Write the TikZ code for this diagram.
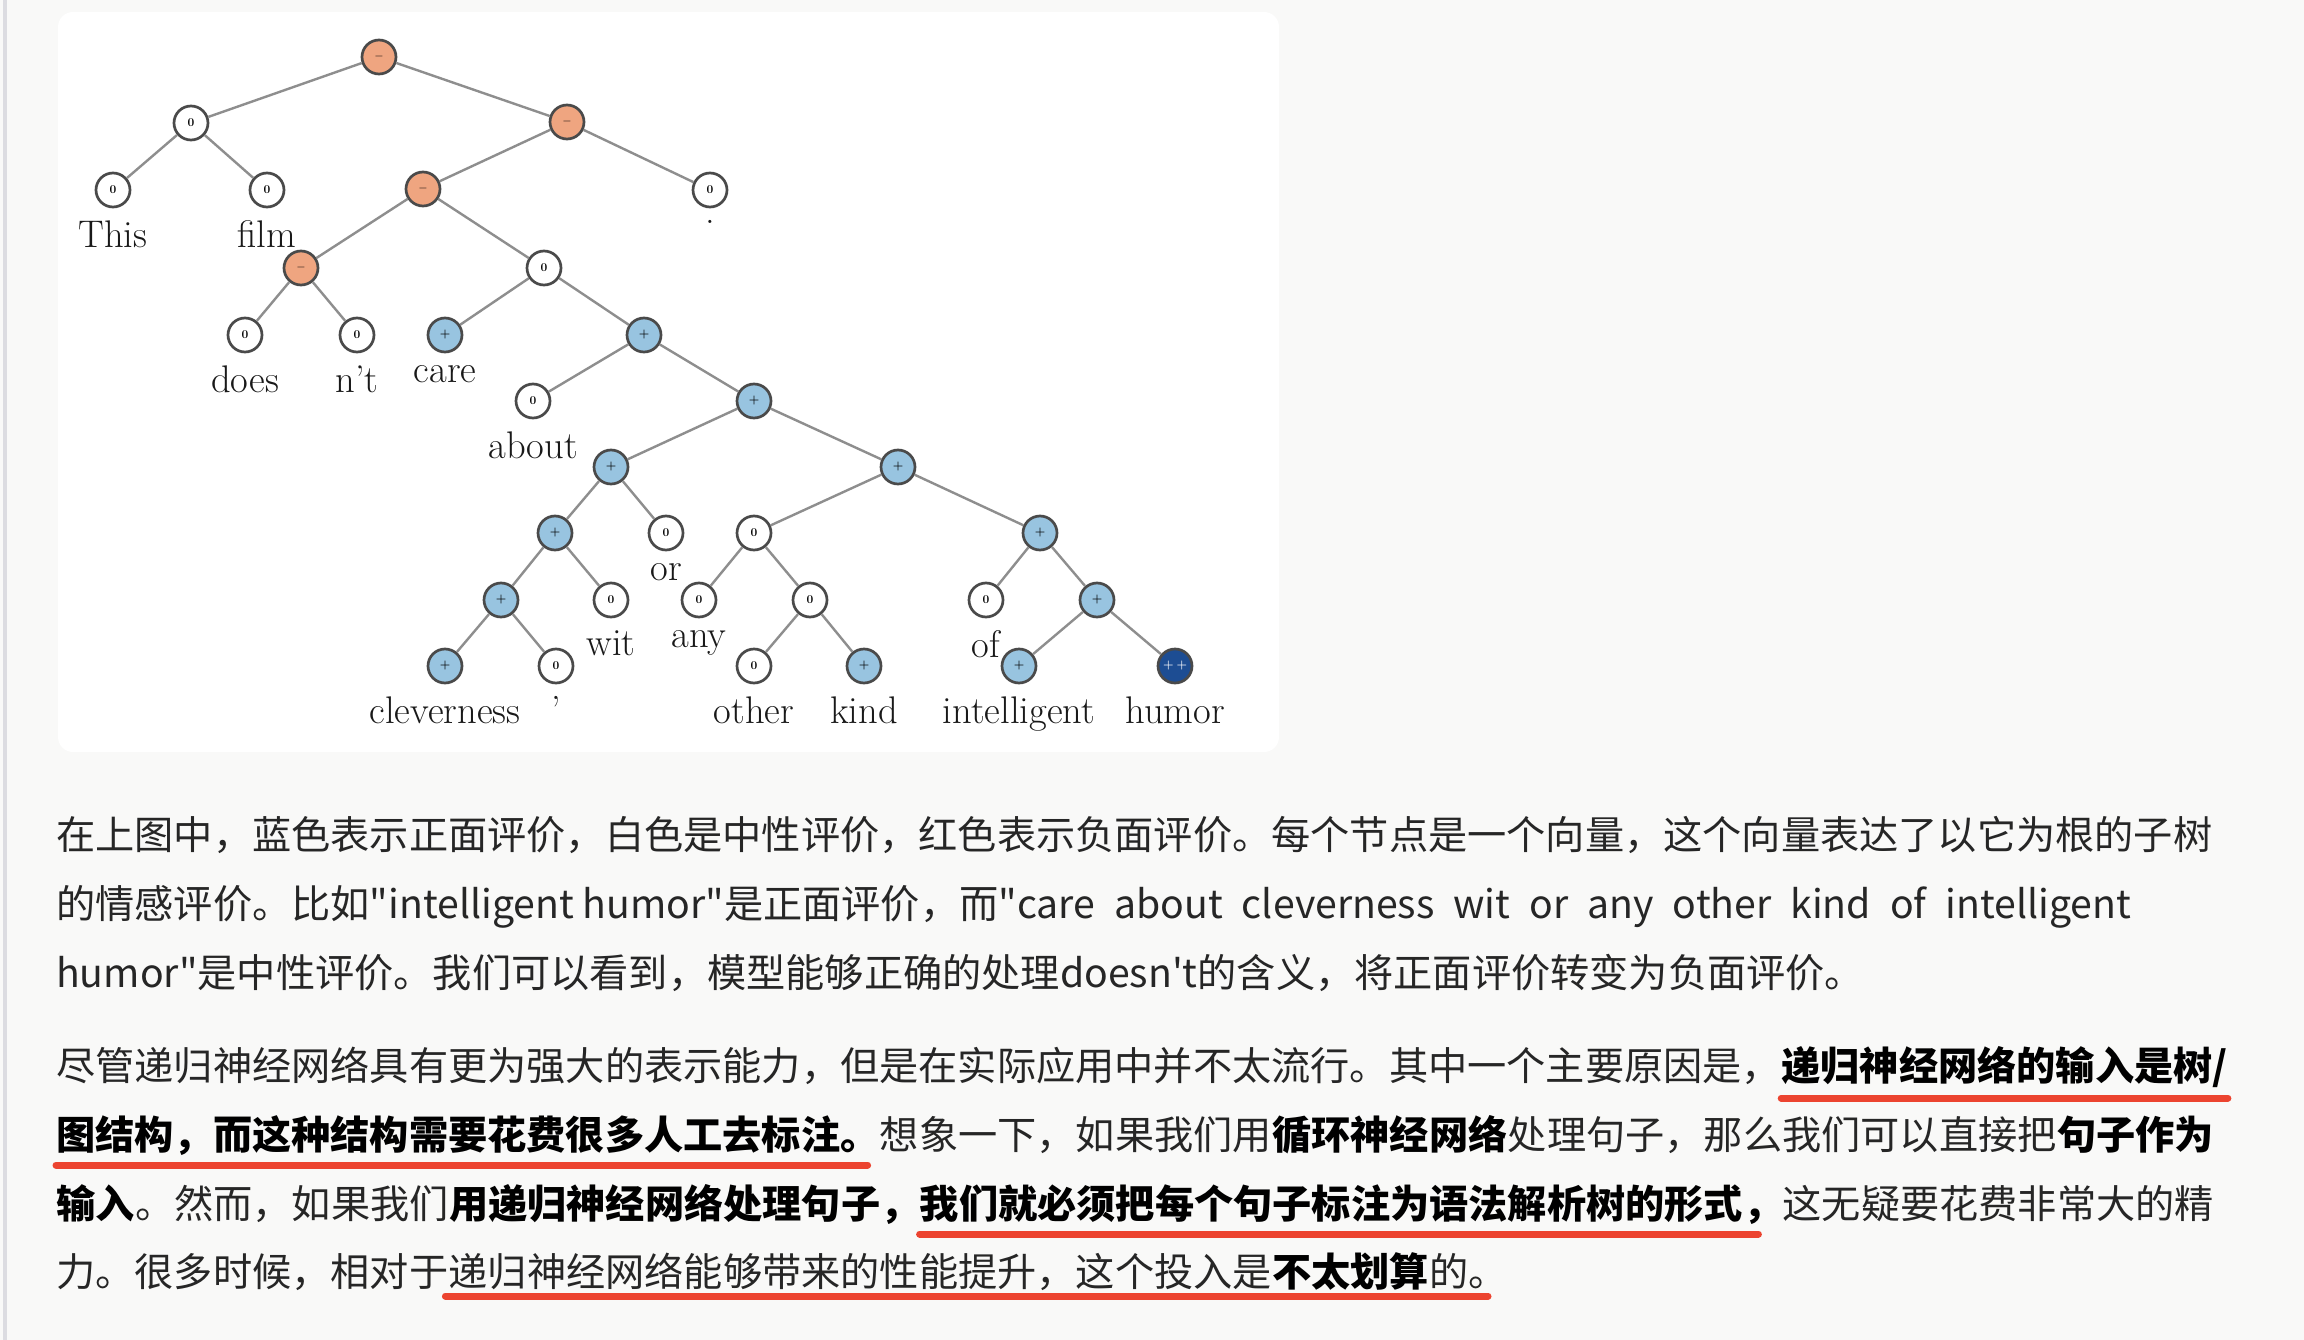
\documentclass[tikz,border=0pt]{standalone}
\usepackage{fontspec}
\newfontfamily\cjk[Ligatures=TeXOff]{Noto Sans CJK SC}
\usetikzlibrary{positioning}
\definecolor{PageBg}{HTML}{F9F9F8}
\definecolor{Rule}{HTML}{DCDCE1}
\definecolor{Ink}{HTML}{262626}
\definecolor{Edge}{HTML}{8E8E8E}
\definecolor{Ring}{HTML}{4A4A4A}
\definecolor{Neg}{HTML}{EFA580}
\definecolor{Pos}{HTML}{98C4E0}
\definecolor{PosStrong}{HTML}{1D4D93}
\definecolor{Mark}{HTML}{EC4430}

\begin{document}
\begin{tikzpicture}[
  x=1pt,y=-1pt,
  label distance=12pt,
  sent/.style={circle,draw=Ring,line width=2.7pt,minimum size=34pt,inner sep=0pt,fill=white,
    font=\fontsize{12}{12}\selectfont\bfseries},
  neutral/.style={sent},
  negative/.style={sent,fill=Neg},
  positive/.style={sent,fill=Pos},
  vpositive/.style={sent,fill=PosStrong,text=white},
  word/.style={inner sep=0pt,text=black!90,font=\fontsize{38.5}{38.5}\selectfont},
  link/.style={draw=Edge,line width=2.4pt},
  para/.style={anchor=base west,inner sep=0pt,text=Ink,font=\cjk\fontsize{39.2}{39.2}\selectfont},
  strong/.style={para,text=black,font=\cjk\bfseries\fontsize{39.2}{39.2}\selectfont},
  uline/.style={draw=Mark,line width=7pt,line cap=round}
]
\useasboundingbox (0,0) rectangle (2304,1340);
\fill[PageBg] (0,0) rectangle (2304,1340);
\fill[Rule] (3,0) rectangle (7,1340);
\fill[white,rounded corners=15pt] (58,12) rectangle (1279,752);

% sentiment tree
\node[negative] (root) at (379,57) {$-$};
\node[neutral] (thisfilm) at (191,123) {0};
\node[negative] (rest) at (567,122) {$-$};
\node[neutral,label={[word]below:This}] (wThis) at (113,190) {0};
\node[neutral,label={[word]below:film}] (wfilm) at (267,190) {0};
\node[negative] (doesntcare) at (423,189) {$-$};
\node[neutral,label={[word]below:{.}}] (wdot) at (710,190) {0};
\node[negative] (doesnt) at (301,268) {$-$};
\node[neutral] (careabout) at (544,268) {0};
\node[neutral,label={[word]below:does}] (wdoes) at (245,335) {0};
\node[neutral,label={[word]below:n't}] (wnt) at (357,335) {0};
\node[positive,label={[word]below:care}] (wcare) at (445,335) {+};
\node[positive] (aboutall) at (644,335) {+};
\node[neutral,label={[word]below:about}] (wabout) at (533,401) {0};
\node[positive] (cleverall) at (754,401) {+};
\node[positive] (cleverwitor) at (611,467) {+};
\node[positive] (anyall) at (898,467) {+};
\node[positive] (cleverwit) at (555,533) {+};
\node[neutral,label={[word]below:or}] (wor) at (666,533) {0};
\node[neutral] (anykind) at (754,533) {0};
\node[positive] (ofhumor) at (1040,533) {+};
\node[positive] (clevercomma) at (501,600) {+};
\node[neutral,label={[word]below:wit}] (wwit) at (611,600) {0};
\node[neutral,label={[word]below:any}] (wany) at (699,600) {0};
\node[neutral] (otherkind) at (810,600) {0};
\node[neutral,label={[word]below:of}] (wof) at (986,600) {0};
\node[positive] (inthumor) at (1097,600) {+};
\node[positive,label={[word]below:cleverness}] (wclever) at (445,666) {+};
\node[neutral,label={[word]below:{,}}] (wcomma) at (556,666) {0};
\node[neutral,label={[word]below:other}] (wother) at (754,666) {0};
\node[positive,label={[word]below:kind}] (wkind) at (864,666) {+};
\node[positive,label={[word]below:intelligent}] (wintel) at (1019,666) {+};
\node[vpositive,label={[word]below:humor}] (whumor) at (1175,666) {+\hspace{3pt}+};

\draw[link] (root)--(thisfilm) (root)--(rest);
\draw[link] (thisfilm)--(wThis) (thisfilm)--(wfilm);
\draw[link] (rest)--(doesntcare) (rest)--(wdot);
\draw[link] (doesntcare)--(doesnt) (doesntcare)--(careabout);
\draw[link] (doesnt)--(wdoes) (doesnt)--(wnt);
\draw[link] (careabout)--(wcare) (careabout)--(aboutall);
\draw[link] (aboutall)--(wabout) (aboutall)--(cleverall);
\draw[link] (cleverall)--(cleverwitor) (cleverall)--(anyall);
\draw[link] (cleverwitor)--(cleverwit) (cleverwitor)--(wor);
\draw[link] (cleverwit)--(clevercomma) (cleverwit)--(wwit);
\draw[link] (clevercomma)--(wclever) (clevercomma)--(wcomma);
\draw[link] (anyall)--(anykind) (anyall)--(ofhumor);
\draw[link] (anykind)--(wany) (anykind)--(otherkind);
\draw[link] (otherkind)--(wother) (otherkind)--(wkind);
\draw[link] (ofhumor)--(wof) (ofhumor)--(inthumor);
\draw[link] (inthumor)--(wintel) (inthumor)--(whumor);

% first paragraph
\node[para] (ln1) at (56,849) {在上图中，蓝色表示正面评价，白色是中性评价，红色表示负面评价。每个节点是一个向量，这个向量表达了以它为根的子树};
\node[para] (ln2) at (56,918) {的情感评价。比如"intelligent humor"是正面评价，而"};
\node[para] (ln2b) at (1017,918) {\makebox[1114pt][s]{care about cleverness wit or any other kind of intelligent}};
\node[para] (ln3) at (56,987) {humor"是中性评价。我们可以看到，模型能够正确的处理doesn't的含义，将正面评价转变为负面评价。};

% second paragraph
\node[para] (lnA) at (56,1080) {尽管递归神经网络具有更为强大的表示能力，但是在实际应用中并不太流行。其中一个主要原因是，};
\node[strong] (lnAb) at (lnA.base east) {递归神经网络的输入是树/};
\node[strong] (lnB) at (56,1149) {图结构，而这种结构需要花费很多人工去标注。};
\node[para] (lnBb) at (lnB.base east) {想象一下，如果我们用};
\node[strong] (lnBc) at (lnBb.base east) {循环神经网络};
\node[para] (lnBd) at (lnBc.base east) {处理句子，那么我们可以直接把};
\node[strong] (lnBe) at (lnBd.base east) {句子作为};
\node[strong] (lnC) at (56,1218) {输入};
\node[para] (lnCb) at (lnC.base east) {。然而，如果我们};
\node[strong] (lnCc) at (lnCb.base east) {用递归神经网络处理句子，};
\node[strong] (lnCd) at (lnCc.base east) {我们就必须把每个句子标注为语法解析树的形式，};
\node[para] (lnCe) at (lnCd.base east) {这无疑要花费非常大的精};
\node[para] (lnD) at (56,1286) {力。很多时候，相对于};
\node[para] (lnDb) at (lnD.base east) {递归神经网络能够带来的性能提升，这个投入是};
\node[strong] (lnDc) at (lnDb.base east) {不太划算};
\node[para] (lnDd) at (lnDc.base east) {的。};

\draw[uline] ([yshift=-18pt]lnAb.base west)--([yshift=-18pt]lnAb.base east);
\draw[uline] ([yshift=-16pt]lnB.base west)--([yshift=-16pt,xshift=-12pt]lnB.base east);
\draw[uline] ([yshift=-16pt]lnCd.base west)--([yshift=-16pt,xshift=-24pt]lnCd.base east);
\draw[uline] ([yshift=-10pt,xshift=-3pt]lnDb.base west)--([yshift=-10pt,xshift=-20pt]lnDd.base east);
\end{tikzpicture}
\end{document}
